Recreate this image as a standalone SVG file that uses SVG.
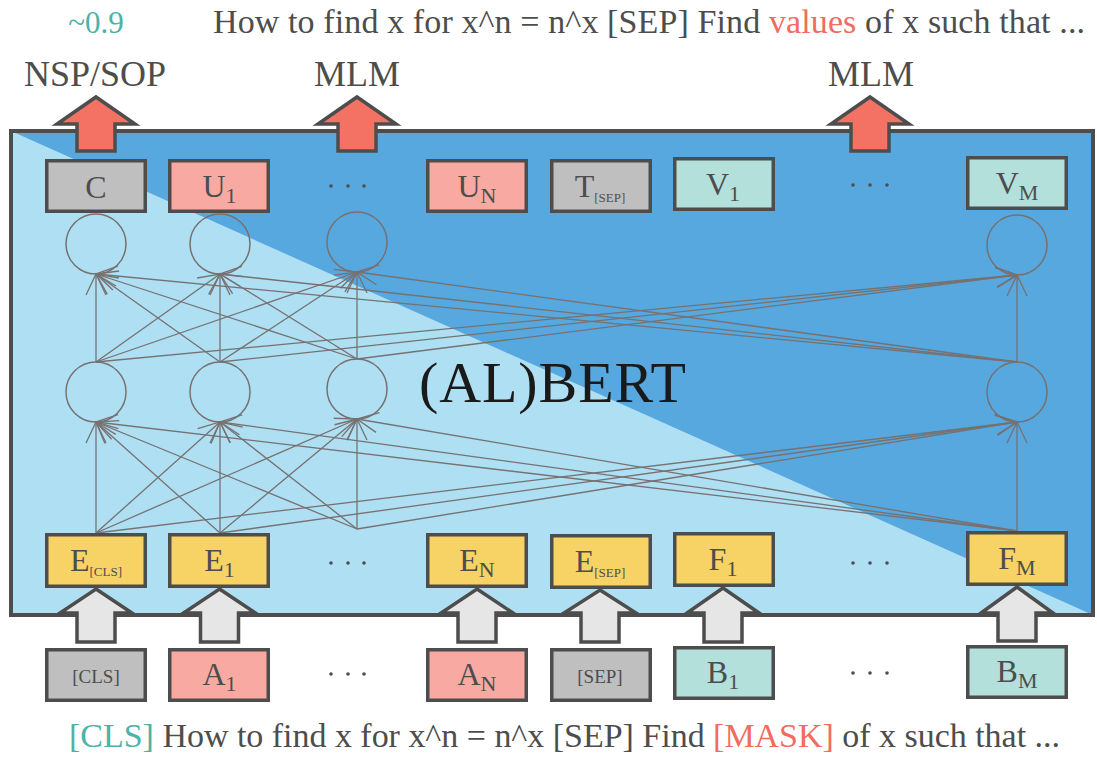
<svg xmlns="http://www.w3.org/2000/svg" width="1097" height="758" viewBox="0 0 1097 758">
<style>
.box{stroke:#4d4d4d;stroke-width:3.5}
.gray{fill:#bfbfbf}.pink{fill:#f7a9a2}.teal{fill:#b3e0db}.yel{fill:#f7d264}
.lbl{font-family:"Liberation Serif",serif;font-size:32px;fill:#4d4d4d;text-anchor:middle}
.sub{font-size:22px}
.tiny{font-size:13px}
.small{font-size:19px}
.title{font-family:"Liberation Serif",serif;font-size:36px;fill:#4d4d4d;text-anchor:middle}
.sent{font-family:"Liberation Serif",serif;font-size:34px;fill:#4d4d4d}
.score{font-size:31px;text-anchor:middle}
.red{fill:#f26b5f}.tl{fill:#4cb3a6}
.neu{fill:none;stroke:#777171;stroke-width:1.5}
.con line{stroke:#777171;stroke-width:1.3;marker-end:url(#ah)}
.uparr{fill:#f47264;stroke:#4d4d4d;stroke-width:3.5}
.inarr{fill:#e6e6e6;stroke:#4d4d4d;stroke-width:3.5}
.dot{fill:#4d4d4d}
</style>
<defs>
<marker id="ah" markerUnits="userSpaceOnUse" orient="auto" refX="0" refY="0" markerWidth="30" markerHeight="30" overflow="visible">
<path d="M-21,-10 L0,0 L-21,10" fill="none" stroke="#777171" stroke-width="1.3"/>
</marker>
</defs>
<rect width="1097" height="758" fill="#ffffff"/>
<text class="sent tl score" x="96" y="33">~0.9</text>
<text class="sent" x="213" y="33" textLength="872">How to find x for x^n = n^x [SEP] Find <tspan class="red">values</tspan> of x such that ...</text>
<text class="title" x="95" y="86">NSP/SOP</text>
<text class="title" x="357" y="86">MLM</text>
<text class="title" x="871" y="86">MLM</text>

<g id="frame">
<rect x="11" y="131" width="1082" height="484" fill="#aedff3"/>
<polygon points="11,131 1093,131 1093,615" fill="#57a8df"/>
<rect x="11" y="131" width="1082" height="484" fill="none" stroke="#4d4d4d" stroke-width="4"/>
</g>
<text x="419" y="402" font-family="Liberation Serif, serif" font-size="58" fill="#1a1a1a" textLength="267">(AL)BERT</text>

<g id="connectors" class="con">
<line x1="96" y1="533" x2="96" y2="422"/>
<line x1="96" y1="533" x2="220" y2="422"/>
<line x1="96" y1="533" x2="357" y2="419"/>
<line x1="96" y1="533" x2="1017" y2="422"/>
<line x1="220" y1="533" x2="96" y2="422"/>
<line x1="220" y1="533" x2="220" y2="422"/>
<line x1="220" y1="533" x2="357" y2="419"/>
<line x1="220" y1="533" x2="1017" y2="422"/>
<line x1="357" y1="529" x2="96" y2="422"/>
<line x1="357" y1="529" x2="220" y2="422"/>
<line x1="357" y1="529" x2="357" y2="419"/>
<line x1="357" y1="529" x2="1017" y2="422"/>
<line x1="1017" y1="531" x2="96" y2="422"/>
<line x1="1017" y1="531" x2="220" y2="422"/>
<line x1="1017" y1="531" x2="357" y2="419"/>
<line x1="1017" y1="531" x2="1017" y2="422"/>
<line x1="96" y1="362" x2="96" y2="274"/>
<line x1="96" y1="362" x2="220" y2="274"/>
<line x1="96" y1="362" x2="357" y2="272"/>
<line x1="96" y1="362" x2="1017" y2="275"/>
<line x1="220" y1="362" x2="96" y2="274"/>
<line x1="220" y1="362" x2="220" y2="274"/>
<line x1="220" y1="362" x2="357" y2="272"/>
<line x1="220" y1="362" x2="1017" y2="275"/>
<line x1="357" y1="359" x2="96" y2="274"/>
<line x1="357" y1="359" x2="220" y2="274"/>
<line x1="357" y1="359" x2="357" y2="272"/>
<line x1="357" y1="359" x2="1017" y2="275"/>
<line x1="1017" y1="362" x2="96" y2="274"/>
<line x1="1017" y1="362" x2="220" y2="274"/>
<line x1="1017" y1="362" x2="357" y2="272"/>
<line x1="1017" y1="362" x2="1017" y2="275"/>
</g>

<g id="neurons-top">
<circle class="neu" cx="96" cy="244" r="30"/>
<circle class="neu" cx="220" cy="244" r="30"/>
<circle class="neu" cx="357" cy="242" r="30"/>
<circle class="neu" cx="1017" cy="245" r="30"/>
</g>
<g id="neurons-low">
<circle class="neu" cx="96" cy="392" r="30"/>
<circle class="neu" cx="220" cy="392" r="30"/>
<circle class="neu" cx="357" cy="389" r="30"/>
<circle class="neu" cx="1017" cy="392" r="30"/>
</g>

<g id="out-arrows">
<path class="uparr" d="M96,97 L135,124 L115,124 L115,151 L77,151 L77,124 L57,124 Z"/>
<path class="uparr" d="M357,97 L396,124 L376,124 L376,151 L338,151 L338,124 L318,124 Z"/>
<path class="uparr" d="M870,97 L909,124 L889,124 L889,151 L851,151 L851,124 L831,124 Z"/>
</g>

<g id="node-C"><rect class="box gray" x="46.75" y="160.75" width="98.5" height="50.5"/><text class="lbl" x="96" y="198">C</text></g>
<g id="node-U1"><rect class="box pink" x="169.75" y="160.75" width="98.5" height="50.5"/><text class="lbl" x="219.5" y="197">U<tspan class="sub" dy="6">1</tspan></text></g>
<g id="node-UN"><rect class="box pink" x="427.75" y="160.75" width="98.5" height="50.5"/><text class="lbl" x="477" y="197">U<tspan class="sub" dy="6">N</tspan></text></g>
<g id="node-TSEP"><rect class="box gray" x="551.75" y="160.75" width="98.5" height="50.5"/><text class="lbl" x="600" y="197">T<tspan class="tiny" dy="5">[SEP]</tspan></text></g>
<g id="node-V1"><rect class="box teal" x="674.75" y="158.75" width="98.5" height="50.5"/><text class="lbl" x="723" y="195">V<tspan class="sub" dy="6">1</tspan></text></g>
<g id="node-VM"><rect class="box teal" x="967.75" y="157.75" width="98.5" height="50.5"/><text class="lbl" x="1017" y="194">V<tspan class="sub" dy="6">M</tspan></text></g>
<g id="dots-top"><circle class="dot" cx="331" cy="186" r="1.8"/><circle class="dot" cx="348" cy="186" r="1.8"/><circle class="dot" cx="364" cy="186" r="1.8"/><circle class="dot" cx="853" cy="185" r="1.8"/><circle class="dot" cx="870" cy="185" r="1.8"/><circle class="dot" cx="887" cy="185" r="1.8"/></g>

<g id="node-ECLS"><rect class="box yel" x="46.75" y="534.75" width="98.5" height="51.5"/><text class="lbl" x="96" y="571">E<tspan class="tiny" dy="5">[CLS]</tspan></text></g>
<g id="node-E1"><rect class="box yel" x="169.75" y="534.75" width="98.5" height="51.5"/><text class="lbl" x="219.5" y="571">E<tspan class="sub" dy="6">1</tspan></text></g>
<g id="node-EN"><rect class="box yel" x="427.75" y="534.75" width="98.5" height="51.5"/><text class="lbl" x="477" y="571">E<tspan class="sub" dy="6">N</tspan></text></g>
<g id="node-ESEP"><rect class="box yel" x="551.75" y="535.75" width="98.5" height="51.5"/><text class="lbl" x="600" y="572">E<tspan class="tiny" dy="5">[SEP]</tspan></text></g>
<g id="node-F1"><rect class="box yel" x="674.75" y="533.75" width="98.5" height="51.5"/><text class="lbl" x="723" y="570">F<tspan class="sub" dy="6">1</tspan></text></g>
<g id="node-FM"><rect class="box yel" x="967.75" y="532.75" width="98.5" height="51.5"/><text class="lbl" x="1017" y="569">F<tspan class="sub" dy="6">M</tspan></text></g>
<g id="dots-mid"><circle class="dot" cx="331" cy="563" r="1.8"/><circle class="dot" cx="348" cy="563" r="1.8"/><circle class="dot" cx="364" cy="563" r="1.8"/><circle class="dot" cx="853" cy="563" r="1.8"/><circle class="dot" cx="870" cy="563" r="1.8"/><circle class="dot" cx="887" cy="563" r="1.8"/></g>

<g id="in-arrows">
<path class="inarr" d="M96,589 L132,613 L115,613 L115,642 L77,642 L77,613 L60,613 Z"/>
<path class="inarr" d="M219.5,589 L255.5,613 L238.5,613 L238.5,642 L200.5,642 L200.5,613 L183.5,613 Z"/>
<path class="inarr" d="M477,589 L513,613 L496,613 L496,642 L458,642 L458,613 L441,613 Z"/>
<path class="inarr" d="M600,590 L636,613 L619,613 L619,642 L581,642 L581,613 L564,613 Z"/>
<path class="inarr" d="M723,588 L759,613 L742,613 L742,642 L704,642 L704,613 L687,613 Z"/>
<path class="inarr" d="M1017,587 L1053,613 L1036,613 L1036,641 L998,641 L998,613 L981,613 Z"/>
</g>

<g id="node-CLS"><rect class="box gray" x="46.75" y="649.75" width="98.5" height="50.5"/><text class="lbl small" x="96" y="683">[CLS]</text></g>
<g id="node-A1"><rect class="box pink" x="169.75" y="649.75" width="98.5" height="50.5"/><text class="lbl" x="219.5" y="685">A<tspan class="sub" dy="6">1</tspan></text></g>
<g id="node-AN"><rect class="box pink" x="427.75" y="649.75" width="98.5" height="50.5"/><text class="lbl" x="477" y="685">A<tspan class="sub" dy="6">N</tspan></text></g>
<g id="node-SEP"><rect class="box gray" x="551.75" y="649.75" width="98.5" height="50.5"/><text class="lbl small" x="600" y="683">[SEP]</text></g>
<g id="node-B1"><rect class="box teal" x="674.75" y="647.75" width="98.5" height="50.5"/><text class="lbl" x="723" y="683">B<tspan class="sub" dy="6">1</tspan></text></g>
<g id="node-BM"><rect class="box teal" x="967.75" y="646.75" width="98.5" height="50.5"/><text class="lbl" x="1017" y="682">B<tspan class="sub" dy="6">M</tspan></text></g>
<g id="dots-in"><circle class="dot" cx="331" cy="674" r="1.8"/><circle class="dot" cx="348" cy="674" r="1.8"/><circle class="dot" cx="364" cy="674" r="1.8"/><circle class="dot" cx="853" cy="673" r="1.8"/><circle class="dot" cx="870" cy="673" r="1.8"/><circle class="dot" cx="887" cy="673" r="1.8"/></g>

<text class="sent" x="69" y="747" textLength="991"><tspan class="tl">[CLS]</tspan> How to find x for x^n = n^x [SEP] Find <tspan class="red">[MASK]</tspan> of x such that ...</text>
</svg>
